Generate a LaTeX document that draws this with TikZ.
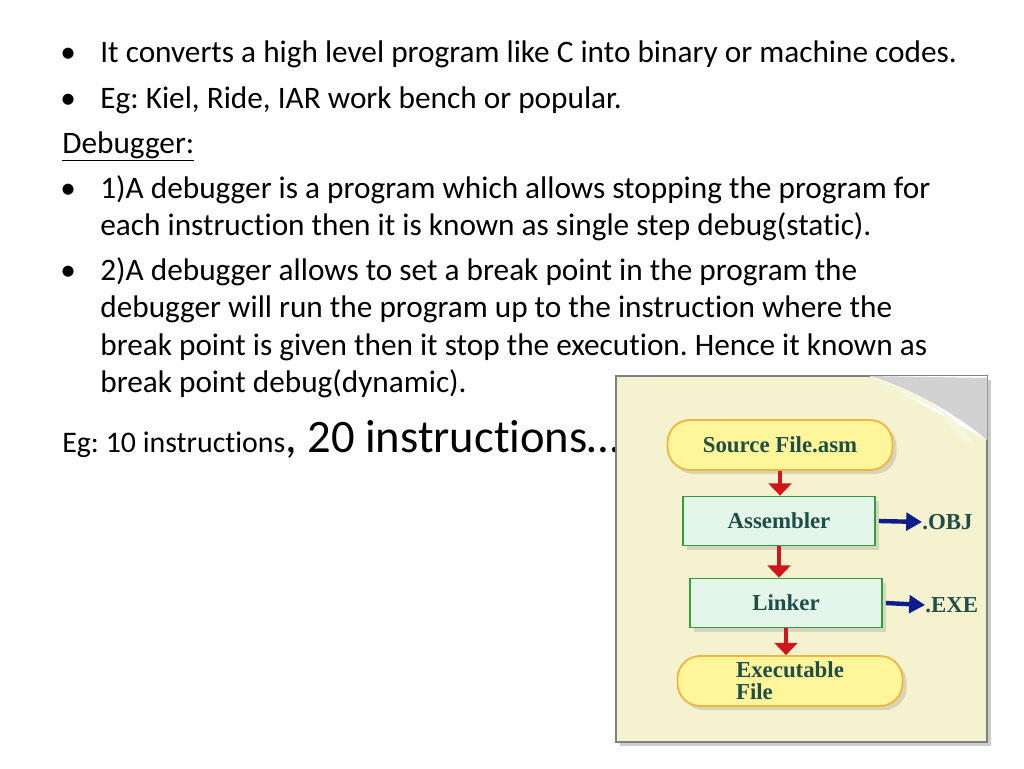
\documentclass[tikz,border=0pt]{standalone}
\usepackage{fontspec}
\setmainfont{Carlito}[RawFeature={-liga}]
\newfontfamily\figfont{Liberation Serif}
\usetikzlibrary{positioning,arrows.meta,shadows}
\frenchspacing
\definecolor{paper}{HTML}{F4F2CF}
\definecolor{pill}{HTML}{FFF59A}
\definecolor{pillline}{HTML}{F2B43C}
\definecolor{boxfill}{HTML}{E4F6EA}
\definecolor{boxline}{HTML}{2E9E3E}
\definecolor{figtext}{HTML}{1F4E48}
\definecolor{flowred}{HTML}{D0161B}
\definecolor{flowblue}{HTML}{0E1C8C}
\tikzset{
  line/.style={anchor=base west, inner sep=0pt, font=\fontsize{17.8pt}{20pt}\selectfont},
  bul/.style={anchor=base west, inner sep=0pt, font=\fontsize{17.8pt}{20pt}\selectfont},
  pillbox/.style={rounded corners=0.45cm, draw=pillline, line width=1pt, fill=pill,
    minimum width=4.5cm, minimum height=1cm, font=\figfont\bfseries\fontsize{13pt}{12.5pt}\selectfont, text=figtext, drop shadow={opacity=0.25}},
  stepbox/.style={draw=boxline, line width=1pt, fill=boxfill, minimum width=3.84cm,
    minimum height=0.98cm, font=\figfont\bfseries\fontsize{13pt}{12.5pt}\selectfont, text=figtext, drop shadow={opacity=0.25}},
  downarrow/.style={-{Triangle[length=7pt,width=13pt]}, flowred, line width=2.5pt},
  sidearrow/.style={-{Triangle[length=9pt,width=10pt]}, flowblue, line width=2.5pt},
  outlabel/.style={font=\figfont\bfseries\fontsize{13pt}{13pt}\selectfont, text=figtext, inner sep=0pt}
}
\begin{document}
\begin{tikzpicture}[x=0.02cm, y=-0.02cm]
    \useasboundingbox (0,0) rectangle (1024,768);

    % Text lines
    \node[bul] at (60,62) {•};
    \node[line] (t1) at (100,62) {It converts a high level program like C into binary or machine codes.};
    \node[bul] at (60,108) {•};
    \node[line] (t2) at (100,108) {Eg: Kiel, Ride, IAR work bench or popular.};
    \node[line] (t3) at (62,153) {\underline{Debugger:}};
    \node[bul] at (60,198) {•};
    \node[line] (t4) at (100,198) {1)A debugger is a program which allows stopping the program for};
    \node[line] (t5) at (100,235) {each instruction then it is known as single step debug(static).};
    \node[bul] at (60,280) {•};
    \node[line] (t6) at (100,280) {2)A debugger allows to set a break point in the program the};
    \node[line] (t7) at (100,317) {debugger will run the program up to the instruction where the};
    \node[line] (t8) at (100,355) {break point is given then it stop the execution. Hence it known as};
    \node[line] (t9) at (100,392) {break point debug(dynamic).};
    \node[anchor=base west, inner sep=0pt] (t10) at (62,452)
      {{\fontsize{17pt}{18pt}\selectfont Eg: 10 instructions}{\fontsize{26.5pt}{28pt}\selectfont, 20 instructions…}};

    % Picture
    \fill[paper, drop shadow={opacity=0.4}] (616,376) rectangle (987,742);
    \draw[gray, line width=0.6pt] (616,376) rectangle (987,742);
    \fill[white] (870,376) -- (987,376) -- (987,440) -- cycle;
    \fill[gray!35] (870,376) .. controls (900,385) and (945,405) .. (987,440) -- (987,378) -- cycle;
    \fill[paper!70!white] (870,376) .. controls (930,395) and (960,420) .. (975,445)
      .. controls (960,440) and (945,425) .. (942,412) .. controls (920,400) and (890,390) .. (870,376);

    \node[pillbox] (src) at (780,445) {Source File.asm};
    \node[stepbox] (asm) at (779,521) {Assembler};
    \node[stepbox] (lnk) at (786,603) {Linker};
    \node[pillbox, align=left] (exe) at (790,681) {Executable\\File};
    \node[outlabel, anchor=west] (obj) at (922,522) {.OBJ};
    \node[outlabel, anchor=west] (exf) at (925,605) {.EXE};

    \draw[downarrow] (src) -- (src |- asm.north);
    \draw[downarrow] (asm.south) -- (asm.south |- lnk.north);
    \draw[downarrow] (lnk.south) -- (lnk.south |- exe.north);
    \draw[sidearrow] (asm.east) ++(3,0) -- (obj.west);
    \draw[sidearrow] (lnk.east) ++(3,0) -- (exf.west);
\end{tikzpicture}
\end{document}
